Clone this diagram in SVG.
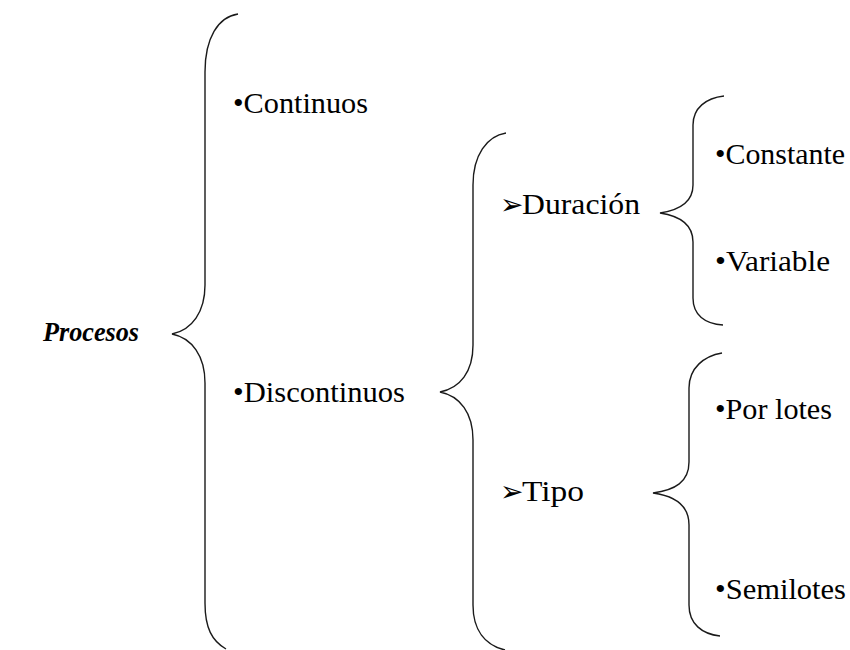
<svg xmlns="http://www.w3.org/2000/svg" width="850" height="650" viewBox="0 0 850 650">
  <style>
    .brace { fill: none; stroke: #1a1a1a; stroke-width: 1.4; }
    .lbl { font-family: "Liberation Serif", "Times New Roman", serif; font-size: 30px; fill: #000; }
    .title { font-family: "Liberation Serif", "Times New Roman", serif; font-size: 28px; font-weight: bold; font-style: italic; fill: #000; }
    .arrow { font-family: "DejaVu Sans", sans-serif; font-size: 28px; fill: #000; }
  </style>
  <rect width="850" height="650" fill="#fff"/>

  <!-- curly braces -->
  <g id="connectors">
    <path class="brace" d="M238,14 C218,17 205,38 205,72 L205,285 C205,312 192,330 172,334 C192,338 205,356 205,383 L205,603 C205,628 212,641 226,649"/>
    <path class="brace" d="M506,133 C487,136 473,155 473,185 L473,345 C473,372 460,388 440,392 C460,396 473,413 473,440 L473,605 C473,630 485,645 505,650"/>
    <path class="brace" d="M724,96 C706,98 693,108 693,125 L693,185 C693,202 680,210 660,213 C680,216 693,225 693,242 L693,298 C693,315 705,324 723,325"/>
    <path class="brace" d="M722,353 C704,356 689,368 689,388 L689,462 C689,482 675,490 653,493 C675,496 689,505 689,525 L689,605 C689,624 702,634 720,636"/>
  </g>

  <g id="procesos">
    <text class="title" x="43" y="341" textLength="96" lengthAdjust="spacingAndGlyphs">Procesos</text>
  </g>
  <g id="continuos">
    <text class="lbl" x="233" y="113" textLength="135" lengthAdjust="spacingAndGlyphs">•Continuos</text>
  </g>
  <g id="discontinuos">
    <text class="lbl" x="233" y="402" textLength="172" lengthAdjust="spacingAndGlyphs">•Discontinuos</text>
  </g>
  <g id="duracion">
    <text class="arrow" x="500" y="214">➢</text>
    <text class="lbl" x="522" y="214" textLength="118" lengthAdjust="spacingAndGlyphs">Duración</text>
  </g>
  <g id="tipo">
    <text class="arrow" x="500" y="501">➢</text>
    <text class="lbl" x="522" y="501" textLength="62" lengthAdjust="spacingAndGlyphs">Tipo</text>
  </g>
  <g id="constante">
    <text class="lbl" x="715" y="164" textLength="130" lengthAdjust="spacingAndGlyphs">•Constante</text>
  </g>
  <g id="variable">
    <text class="lbl" x="715" y="271" textLength="115" lengthAdjust="spacingAndGlyphs">•Variable</text>
  </g>
  <g id="por-lotes">
    <text class="lbl" x="715" y="419" textLength="117" lengthAdjust="spacingAndGlyphs">•Por lotes</text>
  </g>
  <g id="semilotes">
    <text class="lbl" x="715" y="599" textLength="131" lengthAdjust="spacingAndGlyphs">•Semilotes</text>
  </g>
</svg>
